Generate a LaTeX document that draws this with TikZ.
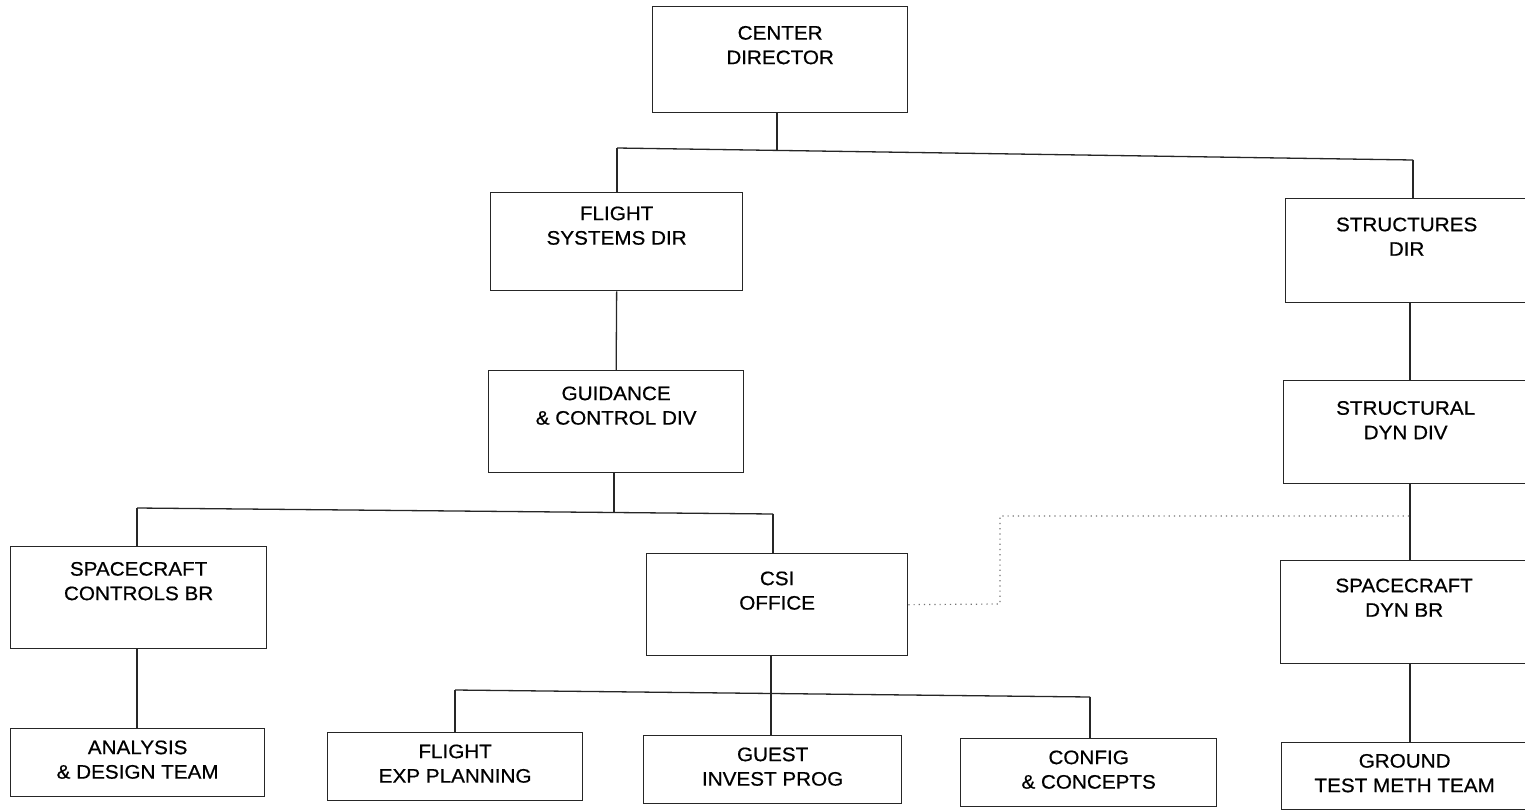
\documentclass[tikz,border=0pt]{standalone}
\usepackage{fontspec}
\setmainfont{Liberation Sans}
\newfontfamily\orgfont[FakeStretch=1.06, FakeBold=0.6]{Liberation Sans}
\begin{document}
\begin{tikzpicture}[x=1pt,y=-1pt,
  orgbox/.style={draw=black!85, line width=1.3pt, rectangle, anchor=north west, inner sep=0pt},
  boxtext/.style={font=\orgfont\fontsize{19.5}{24.5}\selectfont, align=center, text=black},
  conn/.style={draw=black!85, line width=1.3pt},
  dotline/.style={draw=black!55, line width=1.2pt, dash pattern=on 1.2pt off 4pt}]
\useasboundingbox (0,0) rectangle (1525,811);
% boxes
\node[orgbox, minimum width=255, minimum height=106, label={[boxtext,yshift=14.5]center:CENTER\\DIRECTOR}] (cd) at (652,6) {};
\node[orgbox, minimum width=252, minimum height=98, label={[boxtext,yshift=16]center:FLIGHT\\SYSTEMS DIR}] (fs) at (490,192) {};
\node[orgbox, minimum width=242, minimum height=104, label={[boxtext,yshift=14]center:STRUCTURES\\DIR}] (sd) at (1285,198) {};
\node[orgbox, minimum width=255, minimum height=102, label={[boxtext,yshift=16]center:GUIDANCE\\\& CONTROL DIV}] (gc) at (488,370) {};
\node[orgbox, minimum width=244, minimum height=103, label={[boxtext,yshift=12]center:STRUCTURAL\\DYN DIV}] (sdd) at (1283,380) {};
\node[orgbox, minimum width=256, minimum height=102, label={[boxtext,yshift=16.5]center:SPACECRAFT\\CONTROLS BR}] (scb) at (10,546) {};
\node[orgbox, minimum width=261, minimum height=102, label={[boxtext,yshift=14]center:CSI\\OFFICE}] (csi) at (646,553) {};
\node[orgbox, minimum width=247, minimum height=103, label={[boxtext,yshift=14.5]center:SPACECRAFT\\DYN BR}] (sdb) at (1280,560) {};
\node[orgbox, minimum width=254, minimum height=68, label={[boxtext,yshift=3]center:ANALYSIS\\\& DESIGN TEAM}] (adt) at (10,728) {};
\node[orgbox, minimum width=255, minimum height=68, label={[boxtext,yshift=3]center:FLIGHT\\EXP PLANNING}] (fep) at (327,732) {};
\node[orgbox, minimum width=258, minimum height=68, label={[boxtext,yshift=3]center:GUEST\\INVEST PROG}] (gip) at (643,735) {};
\node[orgbox, minimum width=256, minimum height=68, label={[boxtext,yshift=3]center:CONFIG\\\& CONCEPTS}] (cc) at (960,738) {};
\node[orgbox, minimum width=246, minimum height=67, label={[boxtext,yshift=3]center:GROUND\\TEST METH TEAM}] (gtm) at (1281,742) {};
% bus coordinates
\coordinate (b1l) at (617,148);
\coordinate (b1r) at (1413,160);
\coordinate (b1m) at (777,150.4);
\coordinate (b2l) at (137,508);
\coordinate (b2r) at (773,514);
\coordinate (b2m) at (614,512.5);
\coordinate (b3l) at (455,690);
\coordinate (b3r) at (1090,697);
\coordinate (b3m) at (771,693.5);
\coordinate (rc) at (1410,0);
\coordinate (d1) at (1000,604);
\coordinate (d2) at (1000,516);
% connectors
\draw[conn] (cd.south -| b1m) -- (b1m);
\draw[conn] (b1l) -- (b1r);
\draw[conn] (b1l) -- (b1l |- fs.north);
\draw[conn] (b1r) -- (b1r |- sd.north);
\draw[conn] (fs.south) -- (gc.north);
\draw[conn] (gc.south -| b2m) -- (b2m);
\draw[conn] (b2l) -- (b2r);
\draw[conn] (b2l) -- (b2l |- scb.north);
\draw[conn] (b2r) -- (b2r |- csi.north);
\draw[conn] (scb.south -| b2l) -- (adt.north -| b2l);
\draw[conn] (csi.south -| b3m) -- (b3m);
\draw[conn] (b3l) -- (b3r);
\draw[conn] (b3l) -- (b3l |- fep.north);
\draw[conn] (b3m) -- (b3m |- gip.north);
\draw[conn] (b3r) -- (b3r |- cc.north);
\draw[conn] (sd.south -| rc) -- (sdd.north -| rc);
\draw[conn] (sdd.south -| rc) -- (sdb.north -| rc);
\draw[conn] (sdb.south -| rc) -- (gtm.north -| rc);
\draw[dotline] (csi.east) -- (d1) -- (d2) -- (d2 -| rc);
\end{tikzpicture}
\end{document}
